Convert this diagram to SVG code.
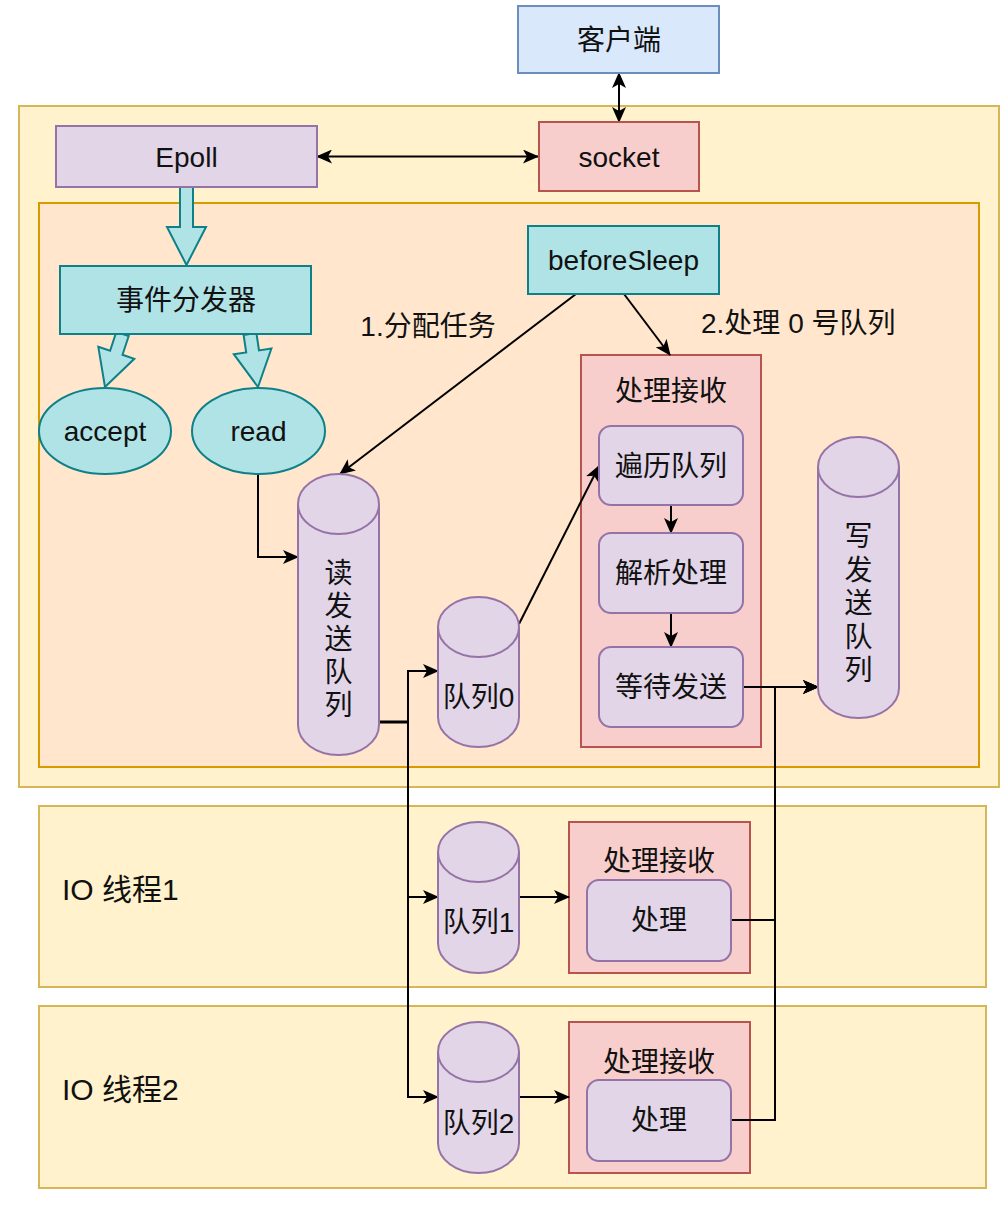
<svg xmlns="http://www.w3.org/2000/svg" width="1001" height="1205" viewBox="0 0 1001 1205">
<defs>
<style>
text{font-family:"Liberation Sans","Noto Sans CJK SC",sans-serif;font-size:28px;fill:#111;text-anchor:middle;dominant-baseline:central}
.yel{fill:#fff2cc;stroke:#d6b656;stroke-width:2}
.org{fill:#ffe6cc;stroke:#d79b00;stroke-width:2}
.pnk{fill:#f8cecc;stroke:#b85450;stroke-width:2}
.pur{fill:#e1d5e7;stroke:#9673a6;stroke-width:2}
.tea{fill:#b0e3e6;stroke:#0e8088;stroke-width:2}
.blu{fill:#dae8fc;stroke:#6c8ebf;stroke-width:2}
.edge{fill:none;stroke:#000;stroke-width:2}
.arr{marker-end:url(#ah)}
.io{font-size:30px;text-anchor:start}
</style>
<marker id="ah" viewBox="0 0 16 14" refX="15" refY="7" markerWidth="16" markerHeight="14" markerUnits="userSpaceOnUse" orient="auto-start-reverse">
<path d="M0,0 L16,7 L0,14 L4,7 Z" fill="#000"/>
</marker>
</defs>

<g id="containers">
<g id="main-process"><rect class="yel" x="19" y="106" width="980" height="681"/></g>
<g id="event-loop"><rect class="org" x="39" y="203" width="940" height="564"/></g>
<g id="io-thread-1"><rect class="yel" x="39" y="806" width="947" height="181"/><text class="io" x="62" y="889">IO 线程1</text></g>
<g id="io-thread-2"><rect class="yel" x="39" y="1006" width="947" height="182"/><text class="io" x="62" y="1089">IO 线程2</text></g>
<g id="recv-main"><rect class="pnk" x="581" y="355" width="180" height="392"/><text x="671" y="391">处理接收</text></g>
<g id="recv-1"><rect class="pnk" x="569" y="822" width="181" height="151"/><text x="659" y="861">处理接收</text></g>
<g id="recv-2"><rect class="pnk" x="569" y="1022" width="181" height="151"/><text x="659" y="1062">处理接收</text></g>
</g>

<g id="connectors">
<path class="edge arr" d="M619,73 V122" marker-start="url(#ah)"/>
<path class="edge arr" d="M317,156.5 H538" marker-start="url(#ah)"/>
<polygon class="tea" points="180,187 193,187 193,227 206,227 186.5,265 167,227 180,227"/>
<polygon class="tea" points="128.7,336 122.5,354.8 134.3,358.8 105,387 98.3,346.8 110.1,350.8 116.3,332"/>
<polygon class="tea" points="256.4,333 259,350.4 271.4,348.6 258,387 233.8,354.2 246.2,352.4 243.6,335"/>
<path class="edge arr" d="M576,294 L340,474"/>
<path class="edge arr" d="M624,294 L670,355"/>
<path class="edge arr" d="M258,474 V557 H298"/>
<path class="edge arr" d="M379,722 H408 V671 H438"/>
<path class="edge arr" d="M379,722 H408 V897 H438"/>
<path class="edge arr" d="M379,722 H408 V1097 H438"/>
<path class="edge" d="M379,722 H408" style="stroke-width:3"/>
<path class="edge arr" d="M519,624 L599,466"/>
<path class="edge arr" d="M671,505 V533"/>
<path class="edge arr" d="M671,613 V647"/>
<path class="edge arr" d="M743,687 H818"/>
<path class="edge arr" d="M731,920 H775 V687 H818"/>
<path class="edge arr" d="M731,1120 H775 V687 H818"/>
<path class="edge arr" d="M519,897 H569"/>
<path class="edge arr" d="M519,1097 H569"/>
<text x="428" y="326">1.分配任务</text>
<text x="701" y="323" style="text-anchor:start">2.处理 0 号队列</text>
</g>

<g id="client"><rect class="blu" x="518" y="6" width="201" height="67"/><text x="619" y="40">客户端</text></g>
<g id="epoll"><rect class="pur" x="56" y="126" width="261" height="61"/><text x="186.5" y="157">Epoll</text></g>
<g id="socket"><rect class="pnk" x="539" y="122" width="160" height="69"/><text x="619" y="157">socket</text></g>
<g id="dispatcher"><rect class="tea" x="60" y="266" width="251" height="68"/><text x="186" y="300">事件分发器</text></g>
<g id="accept"><ellipse class="tea" cx="105" cy="431" rx="66" ry="43"/><text x="105" y="431">accept</text></g>
<g id="read"><ellipse class="tea" cx="258.5" cy="431" rx="66.5" ry="43"/><text x="258.5" y="431">read</text></g>
<g id="beforeSleep"><rect class="tea" x="528" y="226" width="191" height="68"/><text x="623.5" y="260">beforeSleep</text></g>

<g id="read-send-queue">
<path class="pur" d="M298,504 A40.5,30 0 0 1 379,504 V725 A40.5,30 0 0 1 298,725 Z"/>
<path class="pur" d="M298,504 A40.5,30 0 0 0 379,504" fill="none"/>
<text x="338.5" y="573">读</text><text x="338.5" y="606">发</text><text x="338.5" y="639">送</text><text x="338.5" y="672">队</text><text x="338.5" y="705">列</text>
</g>
<g id="queue0">
<path class="pur" d="M438,627 A40.5,30 0 0 1 519,627 V717 A40.5,30 0 0 1 438,717 Z"/>
<path class="pur" d="M438,627 A40.5,30 0 0 0 519,627" fill="none"/>
<text x="478.5" y="697">队列0</text>
</g>
<g id="write-send-queue">
<path class="pur" d="M818,467 A40.5,30 0 0 1 899,467 V688 A40.5,30 0 0 1 818,688 Z"/>
<path class="pur" d="M818,467 A40.5,30 0 0 0 899,467" fill="none"/>
<text x="858.5" y="536">写</text><text x="858.5" y="570">发</text><text x="858.5" y="603">送</text><text x="858.5" y="637">队</text><text x="858.5" y="670">列</text>
</g>
<g id="queue1">
<path class="pur" d="M438,852 A40.5,30 0 0 1 519,852 V943 A40.5,30 0 0 1 438,943 Z"/>
<path class="pur" d="M438,852 A40.5,30 0 0 0 519,852" fill="none"/>
<text x="478.5" y="922">队列1</text>
</g>
<g id="queue2">
<path class="pur" d="M438,1052 A40.5,30 0 0 1 519,1052 V1143 A40.5,30 0 0 1 438,1143 Z"/>
<path class="pur" d="M438,1052 A40.5,30 0 0 0 519,1052" fill="none"/>
<text x="478.5" y="1123">队列2</text>
</g>
<g id="traverse"><rect class="pur" x="599" y="426" width="144" height="79" rx="12"/><text x="671" y="466">遍历队列</text></g>
<g id="parse"><rect class="pur" x="599" y="533" width="144" height="80" rx="12"/><text x="671" y="573">解析处理</text></g>
<g id="wait-send"><rect class="pur" x="599" y="647" width="144" height="80" rx="12"/><text x="671" y="687">等待发送</text></g>
<g id="process-1"><rect class="pur" x="587" y="880" width="144" height="81" rx="12"/><text x="659" y="920">处理</text></g>
<g id="process-2"><rect class="pur" x="587" y="1080" width="144" height="81" rx="12"/><text x="659" y="1120">处理</text></g>
</svg>
